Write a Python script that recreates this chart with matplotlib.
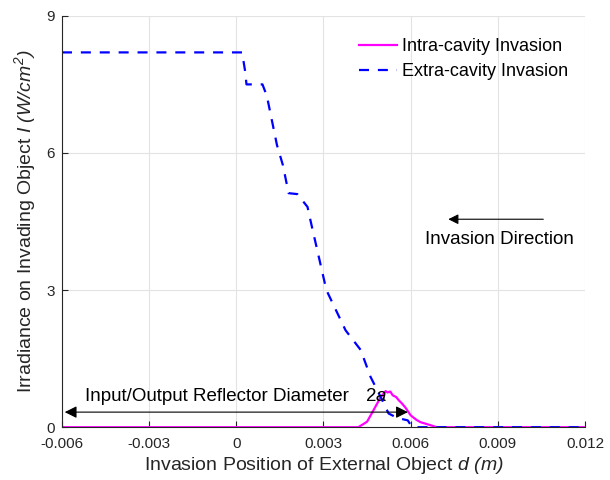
import matplotlib.pyplot as plt

plt.rcParams["font.family"] = ["Liberation Sans", "DejaVu Sans"]
plt.rcParams["mathtext.fontset"] = "custom"
plt.rcParams["mathtext.it"] = "Liberation Sans:italic"
plt.rcParams["mathtext.rm"] = "Liberation Sans:italic"

# extra-cavity invasion (blue dashed)
extra_d = [-0.006, 0.0002, 0.0003, 0.00035, 0.0009, 0.00105, 0.0014, 0.0016, 0.0018,
           0.0021, 0.00245, 0.00255, 0.0031, 0.00376, 0.00428, 0.00462, 0.00497,
           0.00524, 0.00555, 0.0059, 0.006, 0.0061, 0.012]
extra_I = [8.2, 8.2, 7.8, 7.5, 7.5, 7.25, 6.17, 5.74, 5.12, 5.1, 4.82, 4.53, 3.0,
           2.12, 1.69, 1.1, 0.66, 0.3, 0.2, 0.15, 0.05, 0.0, 0.0]

# intra-cavity invasion (magenta solid)
intra_d = [-0.006, 0.0042, 0.0045, 0.00472, 0.00497, 0.00514, 0.0052, 0.0053, 0.00538,
           0.0055, 0.00559, 0.0057, 0.00583, 0.006, 0.0062, 0.00634, 0.0067, 0.0069, 0.012]
intra_I = [0.0, 0.0, 0.12, 0.37, 0.66, 0.79, 0.76, 0.78, 0.7, 0.66, 0.59, 0.52, 0.42,
           0.26, 0.16, 0.11, 0.04, 0.0, 0.0]

x_ticks = [-0.006, -0.003, 0, 0.003, 0.006, 0.009, 0.012]
x_tick_labels = ["-0.006", "-0.003", "0", "0.003", "0.006", "0.009", "0.012"]
y_ticks = [0, 3, 6, 9]

fig = plt.figure(figsize=(6.1, 4.8), dpi=100)
ax = fig.add_axes([0.1016, 0.110, 0.8574, 0.857])

ax.plot(intra_d, intra_I, color="#ff00ff", lw=1.6, label="Intra-cavity Invasion")
ax.plot(extra_d, extra_I, color="#0000ff", lw=1.6, ls=(0, (4.5, 4)), label="Extra-cavity Invasion")

ax.set_xlim(-0.006, 0.012)
ax.set_ylim(0, 9)
ax.set_xticks(x_ticks)
ax.set_xticklabels(x_tick_labels)
ax.set_yticks(y_ticks)
ax.grid(True, color="#e3e3e3", lw=0.8)
ax.set_axisbelow(True)
ax.tick_params(direction="in", labelsize=11, colors="#262626", length=4)
ax.tick_params(axis="x", pad=7)
ax.tick_params(axis="y", pad=5)
for side in ("top", "right"):
    ax.spines[side].set_visible(False)
for side in ("left", "bottom"):
    ax.spines[side].set_color("#262626")
    ax.spines[side].set_linewidth(0.8)

ax.set_xlabel("Invasion Position of External Object $d\\ (m)$", fontsize=14,
              color="#262626", labelpad=3)
ax.set_ylabel("Irradiance on Invading Object $I\\ (W/cm^2)$", fontsize=14,
              color="#262626", labelpad=6)

ax.legend(loc="upper right", bbox_to_anchor=(0.998, 0.985), frameon=False, fontsize=13,
          handlelength=2.1, handletextpad=0.25, labelspacing=0.45)

# reflector diameter annotation
ax.annotate("", xy=(-0.006, 0.33), xytext=(0.006, 0.33),
            arrowprops=dict(arrowstyle="<|-|>", color="black", lw=0.8, mutation_scale=18))
ax.text(-0.00066, 0.68, "Input/Output Reflector Diameter", fontsize=13.5, ha="center", va="center")
ax.text(0.0048, 0.68, "2$a$", fontsize=13.5, ha="center", va="center")

# invasion direction annotation
ax.annotate("", xy=(0.0072, 4.55), xytext=(0.01066, 4.55),
            arrowprops=dict(arrowstyle="-|>", color="black", lw=0.8, mutation_scale=15))
ax.text(0.00907, 4.1, "Invasion Direction", fontsize=13.5, ha="center", va="center")

fig.savefig("out.png", dpi=100)
